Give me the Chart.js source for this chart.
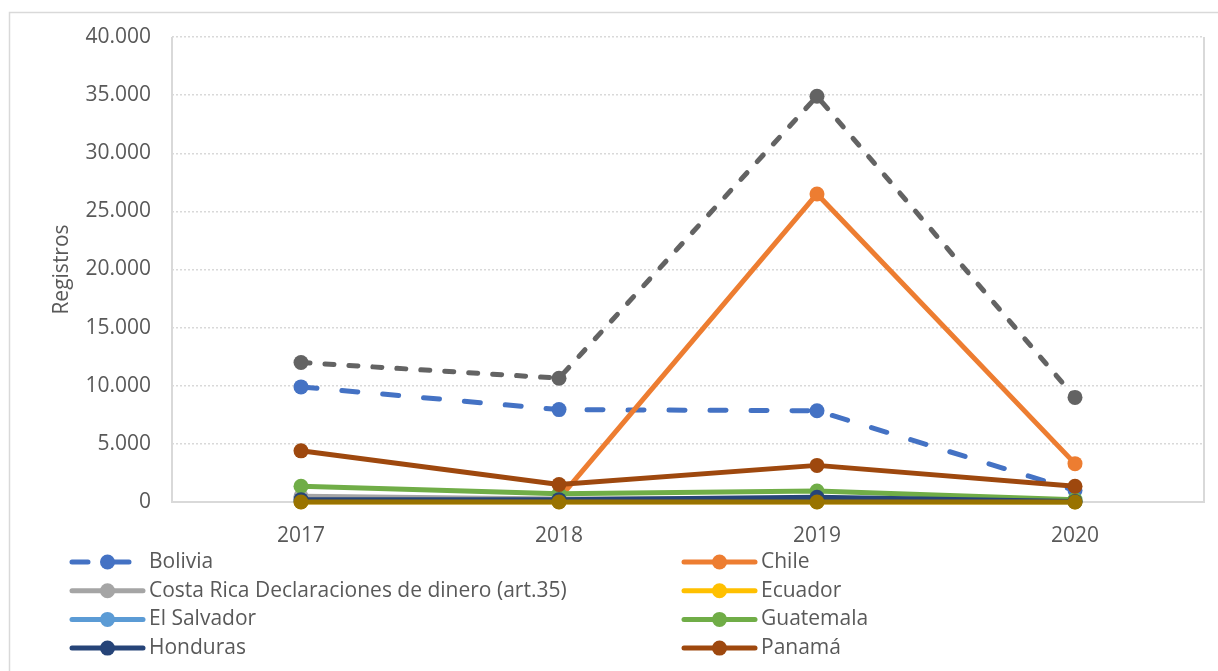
<!DOCTYPE html>
<html><head><meta charset="utf-8">
<script src="https://cdn.jsdelivr.net/npm/chart.js@4/dist/chart.umd.min.js"></script>
<style>html,body{margin:0;padding:0;background:#fff;overflow:hidden}#wrap{position:relative;width:1218px;height:671px}</style>
</head><body><div id="wrap"><canvas id="c" width="1218" height="671"></canvas></div>
<script>
const years = ['2017', '2018', '2019', '2020'];
const seriesNames = ['Bolivia', 'Chile', 'Costa Rica Declaraciones de dinero (art.35)', 'Ecuador', 'El Salvador', 'Guatemala', 'Honduras', 'Panamá', 'Paraguay', 'Perú'];
const bolivia = [9900, 7950, 7850, 1000];
const chile = [null, 300, 26500, 3300];
const costaRica = [500, 250, 300, 100];
const ecuador = [20, 20, 30, 10];
const elSalvador = [60, 50, 60, 20];
const guatemala = [1350, 700, 950, 200];
const honduras = [200, 200, 400, 50];
const panama = [4400, 1500, 3150, 1350];
const paraguay = [12000, 10650, 34900, 9000];
const peru = [0, 0, 0, 0];
const yMin = 0, yMax = 40000, yStep = 5000;
const legendCount = 8;

const allValues = [bolivia, chile, costaRica, ecuador, elSalvador, guatemala, honduras, panama, paraguay, peru];
const colors = ['#4472C4', '#ED7D31', '#A5A5A5', '#FFC000', '#5B9BD5', '#70AD47', '#264478', '#9E480E', '#636363', '#997300'];
const dashes = [[16, 25], [], [], [], [], [], [], [], [9, 15], []];

const FONT = '"Open Sans", "Noto Sans", sans-serif';
const TXT = '#595959';

const datasets = allValues.map((vals, i) => ({
  label: seriesNames[i],
  data: vals,
  borderColor: colors[i],
  backgroundColor: colors[i],
  borderWidth: 5,
  borderDash: dashes[i],
  borderCapStyle: 'round',
  borderJoinStyle: 'round',
  pointRadius: 7.5,
  pointBorderWidth: 0,
  pointBackgroundColor: colors[i],
  tension: 0,
  spanGaps: false,
  clip: false,
  order: -i
}));

const framePlugin = {
  id: 'frame',
  beforeDraw(chart) {
    const ctx = chart.ctx;
    ctx.save();
    ctx.fillStyle = '#fff';
    ctx.fillRect(0, 0, chart.width, chart.height);
    ctx.strokeStyle = '#D9D9D9';
    ctx.lineWidth = 1.5;
    ctx.strokeRect(9.5, 12.5, 1400, 1000);
    ctx.restore();
  },
  beforeDatasetsDraw(chart) {
    const {ctx, chartArea: a} = chart;
    ctx.save();
    ctx.strokeStyle = '#D9D9D9';
    ctx.lineWidth = 2;
    ctx.beginPath();
    ctx.moveTo(a.left, a.top);
    ctx.lineTo(a.left, a.bottom);
    ctx.lineTo(a.right, a.bottom);
    ctx.lineTo(a.right, a.top);
    ctx.stroke();
    ctx.restore();
  },
  afterDraw(chart) {
    const ctx = chart.ctx;
    const ds = chart.data.datasets;
    ctx.save();
    ctx.font = '21px ' + FONT;
    ctx.textBaseline = 'middle';
    ctx.textAlign = 'left';
    const colX = [72, 684];
    const rowY0 = 562, rowH = 28.7, symW = 71;
    for (let i = 0; i < legendCount; i++) {
      const d = ds[i];
      const x = colX[i % 2];
      const y = rowY0 + Math.floor(i / 2) * rowH;
      ctx.strokeStyle = d.borderColor;
      ctx.lineWidth = 5;
      ctx.lineCap = 'round';
      ctx.setLineDash(d.borderDash || []);
      ctx.beginPath();
      ctx.moveTo(x, y);
      ctx.lineTo(x + symW, y);
      ctx.stroke();
      ctx.setLineDash([]);
      ctx.fillStyle = d.borderColor;
      ctx.beginPath();
      ctx.arc(x + symW / 2, y, 7.5, 0, Math.PI * 2);
      ctx.fill();
      ctx.fillStyle = TXT;
      ctx.fillText(d.label, x + symW + 6, y);
    }
    ctx.restore();
  }
};

new Chart(document.getElementById('c'), {
  type: 'line',
  data: { labels: years, datasets },
  options: {
    responsive: false,
    animation: false,
    events: [],
    layout: { padding: { left: 0, top: 37, right: 14, bottom: 0 } },
    plugins: { legend: { display: false }, tooltip: { enabled: false } },
    scales: {
      x: {
        offset: true,
        grid: { display: false, drawTicks: false },
        border: { display: false },
        ticks: { color: TXT, font: { family: FONT, size: 21 }, padding: 21, maxRotation: 0 },
        afterFit(s) { s.height = 169; }
      },
      y: {
        min: yMin, max: yMax,
        grid: { color: '#D9D9D9', lineWidth: 1.5, drawTicks: false },
        border: { display: false, dash: [2, 2] },
        ticks: {
          stepSize: yStep,
          color: TXT,
          font: { family: FONT, size: 21 },
          padding: 21,
          callback: v => String(v).replace(/\B(?=(\d{3})+(?!\d))/g, '.')
        },
        title: { display: true, text: 'Registros', color: TXT, font: { family: FONT, size: 21 }, padding: { top: 49, bottom: 0 } },
        afterFit(s) { s.width = 172; }
      }
    }
  },
  plugins: [framePlugin]
});
</script></body></html>
